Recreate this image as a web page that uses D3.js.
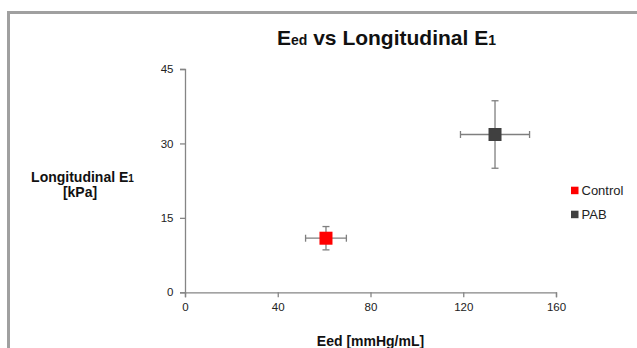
<!DOCTYPE html>
<html><head><meta charset="utf-8">
<script src="https://cdn.jsdelivr.net/npm/d3@7"></script>
<style>body{margin:0;background:#fff;} svg{display:block;font-family:"Liberation Sans",Arial,sans-serif;}</style>
</head><body><div id="chart"></div>
<script>
const groups = ["Control", "PAB"];
const eed = [60.8, 133.7];
const eedErr = [8.8, 14.9];
const e1 = [10.9, 31.8];
const e1Err = [2.35, 6.8];
const colors = ["#ff0000", "#404040"];
const xTicks = [0, 40, 80, 120, 160];
const yTicks = [0, 15, 30, 45];

const W = 637, H = 348;
const svg = d3.select("#chart").append("svg").attr("width", W).attr("height", H);

// frame
svg.append("path").attr("d", "M8.5,348 V12.5 H637").attr("fill", "none").attr("stroke", "#a0a0a0").attr("stroke-width", 3);

const x = d3.scaleLinear().domain([0, 160]).range([185, 556]);
const y = d3.scaleLinear().domain([0, 45]).range([292.3, 69]);

// axes
const xAxis = svg.append("g").attr("transform", "translate(0,292.3)")
  .call(d3.axisBottom(x).tickValues(xTicks).tickSizeOuter(0).tickSize(5).tickPadding(5.5));
const yAxis = svg.append("g").attr("transform", "translate(185,0)")
  .call(d3.axisLeft(y).tickValues(yTicks).tickSizeOuter(0).tickSize(5).tickPadding(6.5));
[xAxis, yAxis].forEach(g => {
  g.selectAll("path,line").attr("stroke", "#858585").attr("stroke-width", 1.3);
  g.selectAll("text").attr("font-size", 11.5).attr("fill", "#222").attr("font-family", "Liberation Sans, Arial, sans-serif");
});

// title
const title = svg.append("text").attr("x", 277).attr("y", 45)
  .attr("font-size", 21).attr("font-weight", "bold").attr("fill", "#111");
title.append("tspan").text("E");
title.append("tspan").text("ed").attr("font-size", 14);
title.append("tspan").text(" vs Longitudinal E");
title.append("tspan").text("1").attr("font-size", 14);

// y label
const yl = svg.append("text").attr("x", 82.5).attr("y", 182).attr("text-anchor", "middle")
  .attr("font-size", 14).attr("font-weight", "bold").attr("fill", "#111");
yl.append("tspan").text("Longitudinal E");
yl.append("tspan").text("1").attr("font-size", 10);
svg.append("text").attr("x", 80).attr("y", 196.5).attr("text-anchor", "middle")
  .attr("font-size", 14).attr("font-weight", "bold").attr("fill", "#111").text("[kPa]");

// x label
svg.append("text").attr("x", 370.5).attr("y", 345.5).attr("text-anchor", "middle")
  .attr("font-size", 14).attr("font-weight", "bold").attr("fill", "#111").text("Eed [mmHg/mL]");

// error bars and markers
const data = groups.map((g, i) => ({g, x: eed[i], xe: eedErr[i], y: e1[i], ye: e1Err[i], c: colors[i]}));
const pts = svg.append("g").selectAll("g").data(data).join("g");
const eb = {stroke: "#7f7f7f", w: 1.3, cap: 3.5};
pts.append("line").attr("x1", d => x(d.x - d.xe)).attr("x2", d => x(d.x + d.xe))
  .attr("y1", d => y(d.y)).attr("y2", d => y(d.y)).attr("stroke", eb.stroke).attr("stroke-width", eb.w);
pts.append("line").attr("y1", d => y(d.y - d.ye)).attr("y2", d => y(d.y + d.ye))
  .attr("x1", d => x(d.x)).attr("x2", d => x(d.x)).attr("stroke", eb.stroke).attr("stroke-width", eb.w);
[-1, 1].forEach(s => {
  pts.append("line").attr("x1", d => x(d.x + s * d.xe)).attr("x2", d => x(d.x + s * d.xe))
    .attr("y1", d => y(d.y) - eb.cap).attr("y2", d => y(d.y) + eb.cap).attr("stroke", eb.stroke).attr("stroke-width", eb.w);
  pts.append("line").attr("y1", d => y(d.y + s * d.ye)).attr("y2", d => y(d.y + s * d.ye))
    .attr("x1", d => x(d.x) - eb.cap).attr("x2", d => x(d.x) + eb.cap).attr("stroke", eb.stroke).attr("stroke-width", eb.w);
});
pts.append("rect").attr("x", d => x(d.x) - 6.5).attr("y", d => y(d.y) - 6.5)
  .attr("width", 13).attr("height", 13).attr("fill", d => d.c);

// legend
const leg = svg.append("g").selectAll("g").data(data).join("g")
  .attr("transform", (d, i) => `translate(571,${186.7 + i * 24})`);
leg.append("rect").attr("width", 7.5).attr("height", 7.5).attr("fill", d => d.c);
leg.append("text").attr("x", 10.5).attr("y", 8.3).attr("font-size", 13).attr("fill", "#222").text(d => d.g);
</script>
</body></html>
